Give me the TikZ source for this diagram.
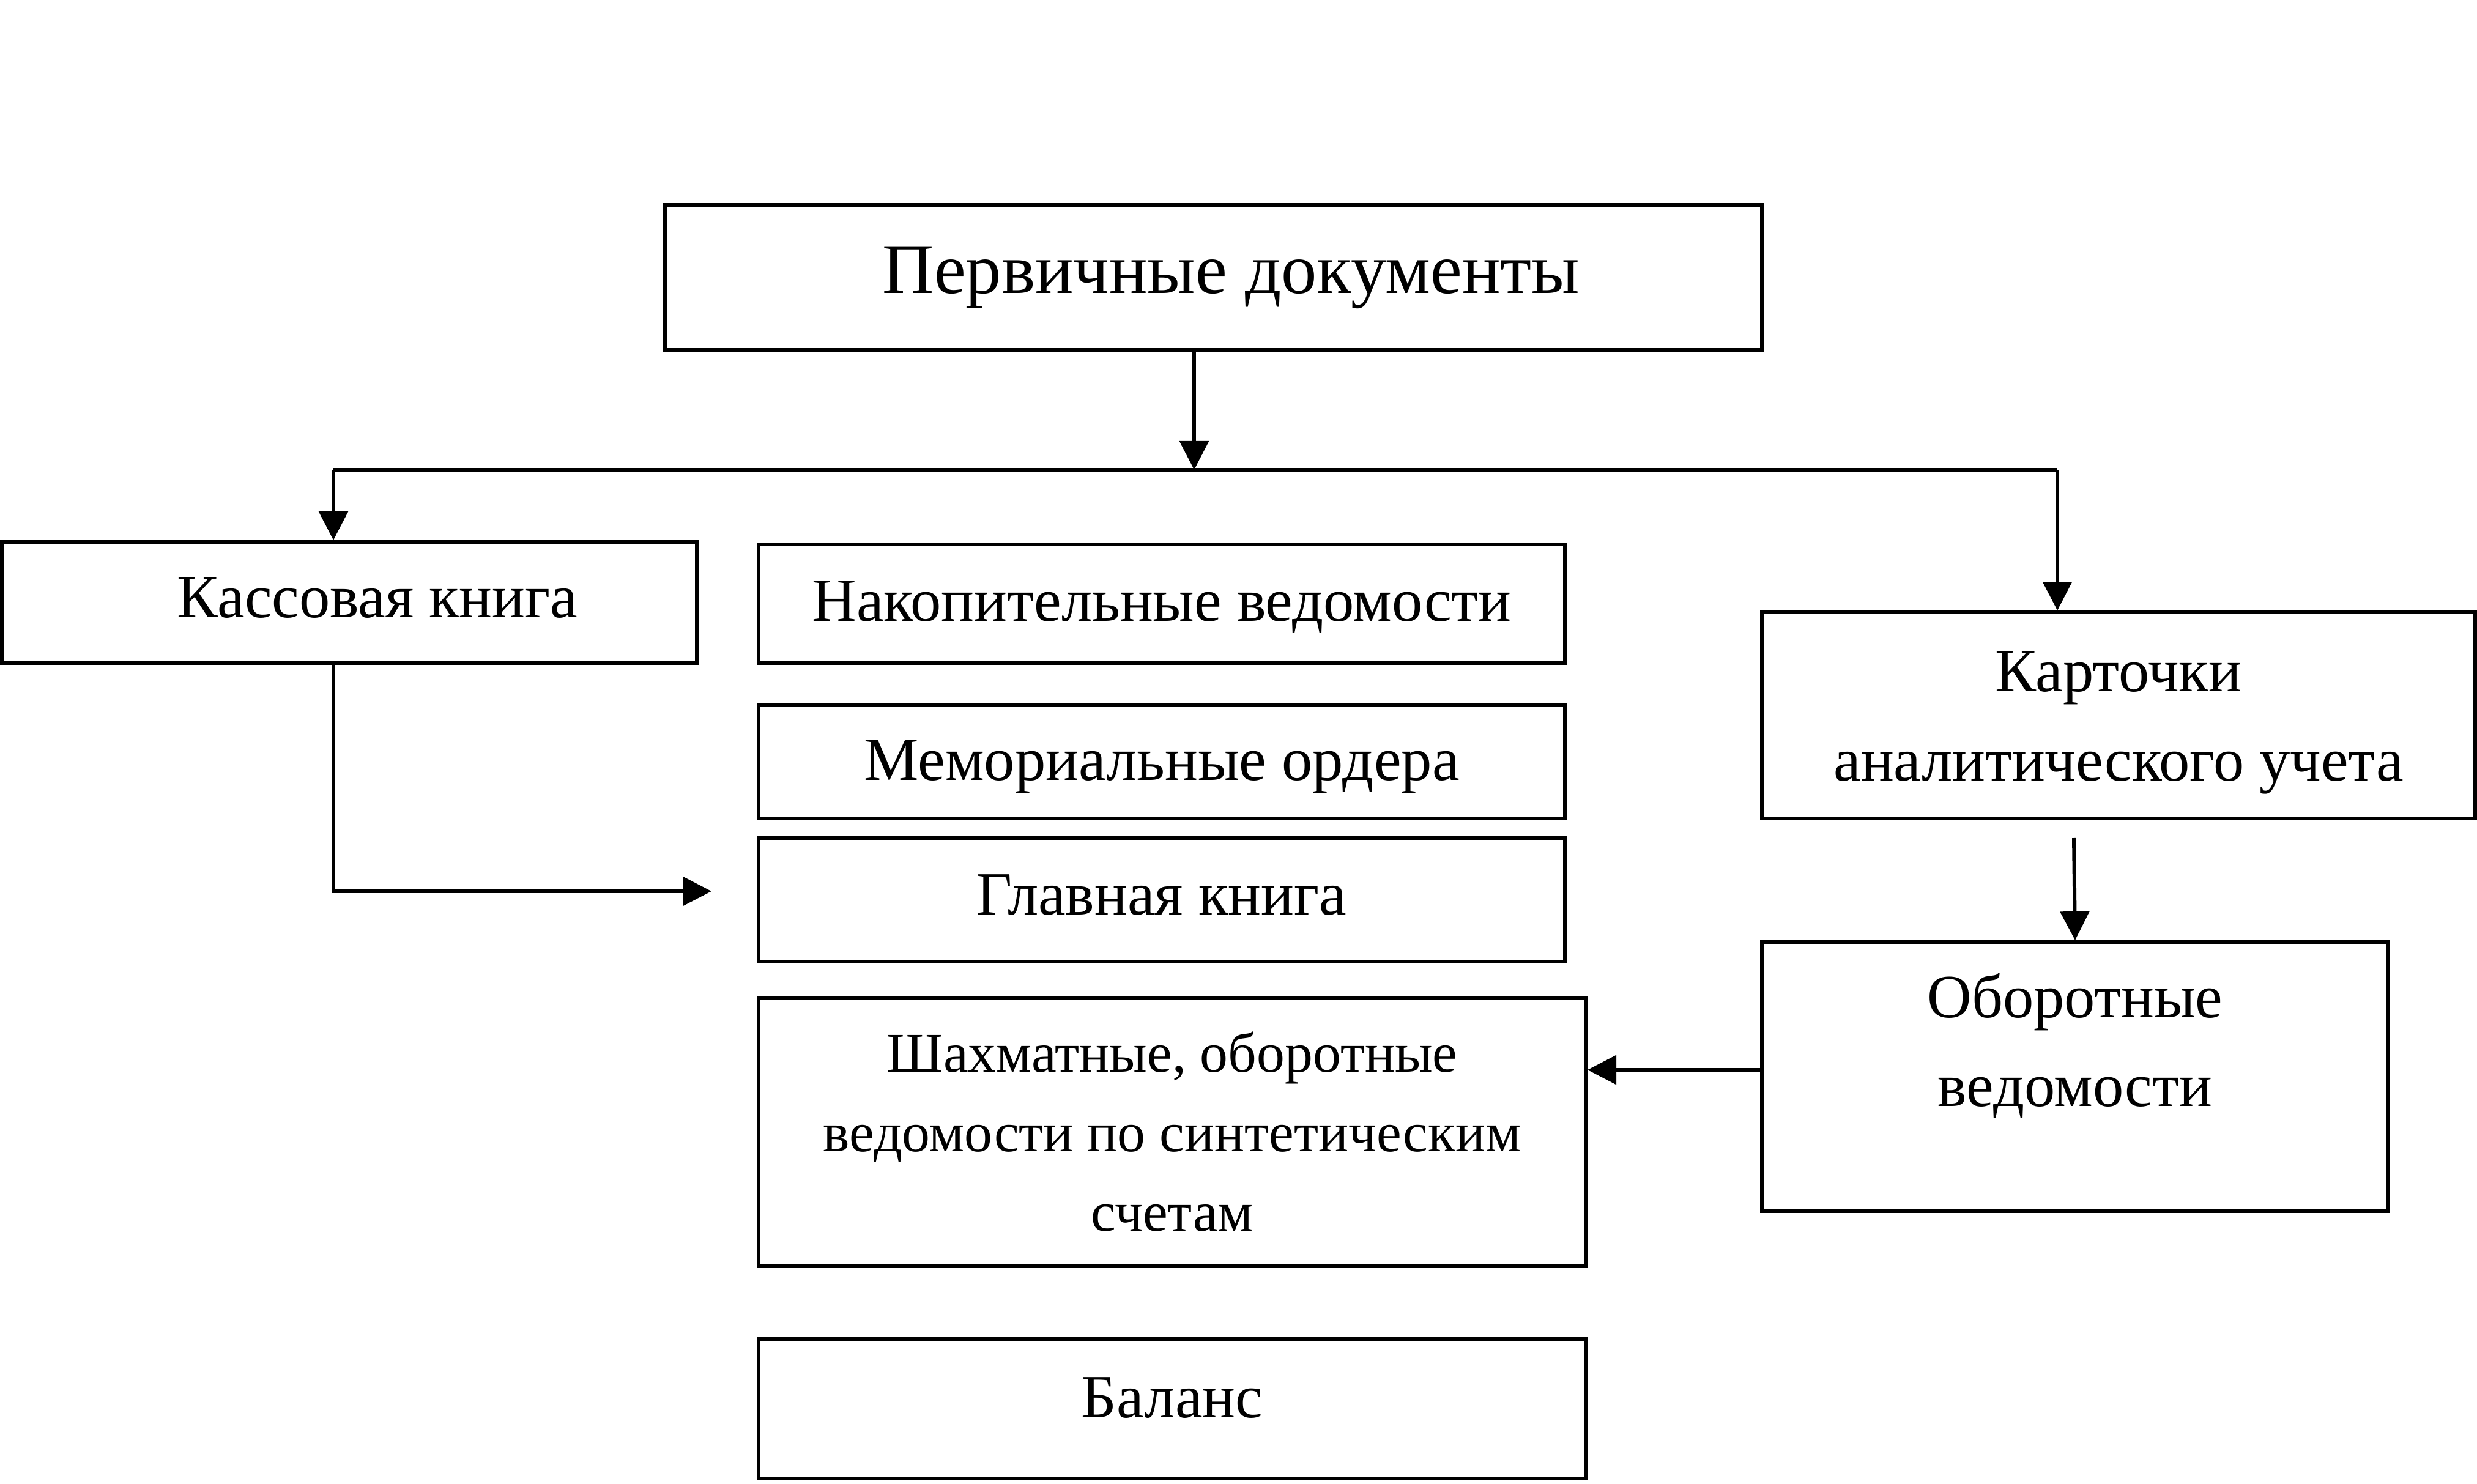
\documentclass[tikz,border=0pt]{standalone}
\usepackage{fontspec}
\setmainfont{Liberation Serif}
\usetikzlibrary{arrows.meta}
\tikzset{
block/.style={draw, line width=1.7pt, inner sep=0pt, align=center,
  font=\fontsize{28.6}{41.5}\selectfont},
link/.style={line width=1.7pt, -{Triangle[length=0.47cm, width=0.47cm]}},
wire/.style={line width=1.7pt}
}

\begin{document}
\begin{tikzpicture}
  \useasboundingbox (0,0) rectangle (40.49,-24.26);
  \node[block, minimum width=17.93cm, minimum height=2.37cm,
    font=\fontsize{33.2}{40}\selectfont] (perv) at (19.835,-4.535) {\hspace*{0.58cm}Первичные документы};
  \node[block, minimum width=11.36cm, minimum height=1.98cm] (kassa) at (5.71,-9.85) {\hspace*{0.92cm}\raisebox{0.16cm}{Кассовая книга}};
  \node[block, minimum width=13.18cm, minimum height=1.94cm] (nakop) at (18.99,-9.87) {\raisebox{-0.1cm}[\height]{Накопительные ведомости}};
  \node[block, minimum width=13.18cm, minimum height=1.86cm] (memor) at (18.99,-12.45) {\raisebox{-0.16cm}[\height]{Мемориальные ордера}};
  \node[block, minimum width=13.18cm, minimum height=2.02cm] (glav) at (18.99,-14.71) {\raisebox{0.16cm}{Главная книга}};
  \node[block, minimum width=13.52cm, minimum height=4.39cm,
    font=\fontsize{26.1}{37}\selectfont] (shakh) at (19.16,-18.505)
    {Шахматные, оборотные\\ведомости по синтетическим\\счетам};
  \node[block, minimum width=13.52cm, minimum height=2.28cm] (balans) at (19.16,-23.03) {\raisebox{0.36cm}{Баланс}};
  \node[block, minimum width=11.66cm, minimum height=3.37cm] (kart) at (34.63,-11.695)
    {\mbox{}\\[-0.56cm]Карточки\\аналитического учета};
  \node[block, minimum width=10.24cm, minimum height=4.40cm] (obor) at (33.92,-17.60)
    {Оборотные\\ведомости\\[-0.26cm] };

  \coordinate (split) at (19.52,-7.68);
  \coordinate (lbr) at (5.45,-7.68);
  \coordinate (rbr) at (33.63,-7.68);
  \coordinate (kg) at (11.63,-14.57);
  \coordinate (ko) at (33.90,-13.70);
  \coordinate (os) at (28.80,-17.49);

  \draw[link] (split |- perv.south) -- (split);
  \draw[wire] (lbr) -- (rbr);
  \draw[link] (lbr) -- (lbr |- kassa.north);
  \draw[link] (rbr) -- (rbr |- kart.north);
  \draw[link] (kassa.south -| lbr) |- (kg);
  \draw[link] (ko) -- (obor.north);
  \draw[link] (os) -- (os -| shakh.east);
\end{tikzpicture}
\end{document}
